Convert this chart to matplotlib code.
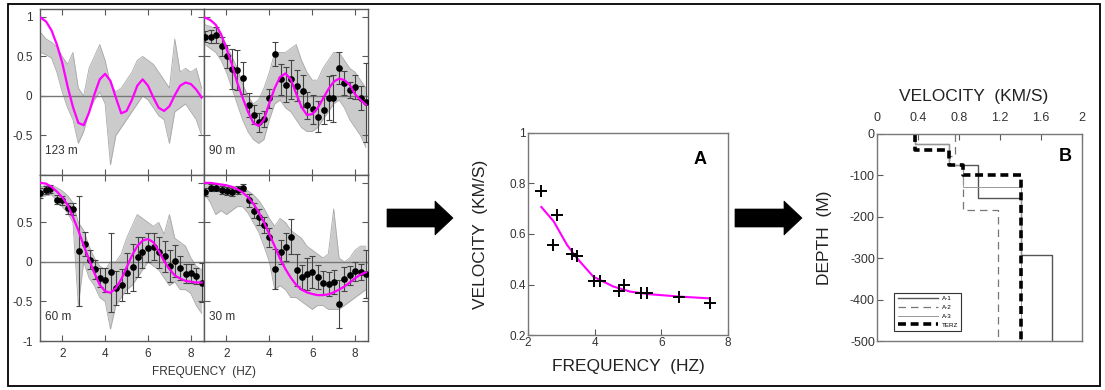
import numpy as np
import matplotlib
matplotlib.use("Agg")
import matplotlib.pyplot as plt
from matplotlib.patches import Rectangle, Polygon

plt.rcParams['font.family'] = ['Liberation Sans', 'DejaVu Sans']

W, H = 1105, 390
MAG = '#ff00ff'
FRAME = '#5a5a5a'

# ---- SPAC coefficient panels (frequency grid of the theoretical / observed curves)
freq = [1.0, 1.25, 1.5, 1.75, 2.0, 2.25, 2.5, 2.75, 3.0, 3.25, 3.5, 3.75, 4.0, 4.25, 4.5,
        4.75, 5.0, 5.25, 5.5, 5.75, 6.0, 6.25, 6.5, 6.75, 7.0, 7.25, 7.5, 7.75, 8.0, 8.25, 8.5]

theory_123 = [0.99, 0.94, 0.83, 0.65, 0.42, 0.12, -0.14, -0.34, -0.37, -0.21, 0.02, 0.21, 0.28, 0.19, -0.02,
              -0.22, -0.19, -0.05, 0.13, 0.21, 0.13, -0.02, -0.15, -0.19, -0.13, 0.01, 0.13, 0.17, 0.15, 0.08, -0.02]
theory_90 = [0.99, 0.96, 0.90, 0.78, 0.60, 0.40, 0.17, -0.02, -0.20, -0.34, -0.38, -0.30, -0.09, 0.10, 0.24,
             0.285, 0.21, 0.03, -0.14, -0.24, -0.23, -0.155, -0.035, 0.085, 0.18, 0.22, 0.20, 0.14, 0.02, -0.05, -0.11]
theory_60 = [1.0, 0.99, 0.95, 0.89, 0.82, 0.72, 0.57, 0.40, 0.21, 0.03, -0.14, -0.29, -0.37, -0.39, -0.33,
             -0.22, -0.07, 0.08, 0.20, 0.27, 0.29, 0.25, 0.14, 0.01, -0.09, -0.17, -0.21, -0.24, -0.25, -0.26, -0.26]
theory_30 = [1.0, 1.0, 0.99, 0.98, 0.97, 0.95, 0.92, 0.88, 0.82, 0.74, 0.63, 0.50, 0.35, 0.20, 0.04,
             -0.09, -0.20, -0.29, -0.35, -0.385, -0.405, -0.42, -0.42, -0.41, -0.385, -0.35, -0.31, -0.26, -0.205, -0.16, -0.13]

# spread of the individual (grey) observed curves
lo_123 = [0.55, 0.52, 0.48, 0.30, 0.05, -0.15, -0.30, -0.60, -0.45, -0.20, -0.05, 0.05, -0.10, -0.87, -0.50,
          -0.40, -0.30, -0.20, -0.10, 0.00, -0.05, -0.15, -0.25, -0.30, -0.60, -0.20, -0.15, -0.10, -0.20, -0.30, -0.50]
hi_123 = [0.80, 0.72, 0.68, 0.62, 0.50, 0.40, 0.55, 0.10, 0.00, 0.35, 0.50, 0.65, 0.45, 0.15, 0.05,
          0.10, 0.20, 0.30, 0.45, 0.50, 0.45, 0.40, 0.30, 0.20, 0.10, 0.72, 0.30, 0.35, 0.30, 0.35, 0.10]
lo_90 = [0.65, 0.60, 0.55, 0.45, 0.30, 0.10, -0.10, -0.30, -0.45, -0.55, -0.60, -0.55, -0.30, -0.10, -0.05,
         -0.15, -0.20, -0.30, -0.40, -0.45, -0.45, -0.40, -0.30, -0.20, -0.10, -0.05, -0.15, -0.30, -0.40, -0.50, -0.65]
hi_90 = [0.90, 0.88, 0.85, 0.75, 0.65, 0.50, 0.35, 0.15, 0.00, -0.10, -0.05, 0.10, 0.30, 0.55, 0.55,
         0.55, 0.60, 0.65, 0.45, 0.30, 0.20, 0.20, 0.35, 0.45, 0.55, 0.55, 0.45, 0.35, 0.30, 0.20, 0.10]
lo_60 = [0.82, 0.84, 0.85, 0.78, 0.70, 0.62, 0.50, -0.55, 0.00, -0.20, -0.30, -0.45, -0.50, -0.85, -0.55,
         -0.45, -0.35, -0.30, -0.20, -0.10, 0.00, -0.05, -0.10, -0.20, -0.30, -0.25, -0.35, -0.35, -0.40, -0.55, -0.65]
hi_60 = [0.95, 0.97, 0.97, 0.94, 0.90, 0.84, 0.75, 0.50, 0.40, 0.20, 0.05, -0.05, -0.10, 0.00, 0.00,
         0.10, 0.30, 0.45, 0.60, 0.55, 0.50, 0.45, 0.50, 0.35, 0.60, 0.30, 0.25, 0.20, 0.05, -0.05, -0.10]
lo_30 = [0.85, 0.75, 0.60, 0.65, 0.60, 0.65, 0.70, 0.70, 0.62, 0.50, 0.38, 0.20, 0.00, -0.35, -0.30,
         -0.35, -0.45, -0.45, -0.50, -0.55, -0.60, -0.55, -0.55, -0.60, -0.60, -0.60, -0.55, -0.50, -0.45, -0.40, -0.35]
hi_30 = [0.98, 0.98, 0.98, 0.98, 0.97, 0.96, 0.95, 0.93, 0.90, 0.85, 0.78, 0.68, 0.55, 0.45, 0.55,
         0.50, 0.40, 0.35, 0.30, 0.20, 0.15, 0.10, 0.05, 0.10, 0.67, 0.05, 0.00, 0.05, 0.15, 0.20, 0.20]

# averaged observations with error bars
f90 = [1.02, 1.26, 1.53, 1.80, 2.03, 2.26, 2.50, 2.76, 3.04, 3.27, 3.50, 3.74, 4.00, 4.28, 4.52, 4.77,
       5.02, 5.29, 5.55, 5.77, 6.03, 6.29, 6.53, 6.76, 6.99, 7.27, 7.50, 7.77, 8.00, 8.27, 8.50]
v90 = [0.75, 0.75, 0.77, 0.63, 0.50, 0.34, 0.33, 0.23, -0.11, -0.24, -0.33, -0.29, -0.03, 0.53, 0.21, 0.14,
       0.21, 0.13, 0.06, -0.12, -0.17, -0.26, -0.18, -0.03, -0.03, 0.35, 0.16, 0.08, 0.11, -0.03, -0.08]
e90 = [0.07, 0.08, 0.10, 0.12, 0.15, 0.25, 0.25, 0.20, 0.15, 0.12, 0.12, 0.10, 0.12, 0.15, 0.20, 0.22,
       0.25, 0.20, 0.20, 0.17, 0.18, 0.20, 0.18, 0.28, 0.30, 0.20, 0.15, 0.10, 0.15, 0.15, 0.50]
f60 = [0.97, 1.22, 1.44, 1.75, 2.00, 2.26, 2.50, 2.76, 3.04, 3.28, 3.53, 3.78, 4.00, 4.27, 4.52, 4.79,
       5.04, 5.30, 5.54, 5.74, 6.02, 6.27, 6.52, 6.77, 7.02, 7.26, 7.51, 7.76, 8.01, 8.26, 8.51]
v60 = [0.87, 0.91, 0.92, 0.79, 0.78, 0.68, 0.67, 0.14, 0.23, 0.03, -0.09, -0.20, -0.23, -0.13, -0.33, -0.29,
       -0.14, -0.07, 0.06, 0.12, 0.18, 0.19, 0.12, 0.07, -0.05, 0.01, -0.08, -0.15, -0.14, -0.18, -0.26]
e60 = [0.06, 0.05, 0.05, 0.06, 0.06, 0.07, 0.08, 0.70, 0.15, 0.12, 0.12, 0.12, 0.15, 0.50, 0.22, 0.20,
       0.25, 0.30, 0.25, 0.20, 0.18, 0.17, 0.20, 0.20, 0.20, 0.20, 0.15, 0.12, 0.12, 0.10, 0.25]
f30 = [1.02, 1.29, 1.53, 1.80, 2.03, 2.26, 2.53, 2.76, 3.04, 3.27, 3.50, 3.77, 4.00, 4.28, 4.53, 4.78,
       5.02, 5.29, 5.52, 5.75, 6.01, 6.27, 6.50, 6.77, 7.00, 7.26, 7.50, 7.77, 8.00, 8.27, 8.52]
v30 = [0.88, 0.94, 0.94, 0.91, 0.90, 0.88, 0.91, 0.94, 0.78, 0.65, 0.57, 0.47, 0.31, -0.09, 0.13, 0.19,
       0.32, -0.10, -0.19, -0.15, -0.13, -0.19, -0.26, -0.28, -0.25, -0.53, -0.22, -0.17, -0.12, -0.13, -0.15]
e30 = [0.05, 0.04, 0.04, 0.05, 0.05, 0.05, 0.05, 0.04, 0.08, 0.10, 0.10, 0.10, 0.12, 0.25, 0.15, 0.18,
       0.22, 0.20, 0.15, 0.20, 0.20, 0.15, 0.15, 0.15, 0.15, 0.30, 0.15, 0.12, 0.12, 0.10, 0.30]

# ---- panel A: dispersion curve
disp_f = [2.4, 2.75, 2.87, 3.32, 3.47, 3.99, 4.16, 4.74, 4.89, 5.39, 5.56, 6.54, 7.47]
disp_v = [0.769, 0.555, 0.674, 0.519, 0.511, 0.412, 0.412, 0.376, 0.397, 0.368, 0.368, 0.352, 0.326]
fit_f = [2.4, 2.77, 3.17, 3.47, 3.96, 4.56, 5.06, 5.6, 6.56, 7.45]
fit_v = [0.707, 0.65, 0.557, 0.504, 0.431, 0.392, 0.372, 0.362, 0.352, 0.345]

# ---- panel B: velocity profiles (layer velocities, layer boundaries in m)
a1_v = [0.37, 0.70, 0.99, 1.40, 1.71]
a1_z = [0, -24, -75, -155, -293, -500]
a2_v = [0.76, 0.70, 0.84, 1.18]
a2_z = [0, -52, -75, -184, -500]
a3_v = [0.37, 0.70, 0.84, 1.40]
a3_z = [0, -24, -75, -127, -500]
terz_v = [0.37, 0.70, 0.84, 1.40]
terz_z = [0, -39, -75, -100, -500]


def fx(px):
    return px / W


def fy(py):
    return 1 - py / H


def steps(v, z):
    return np.repeat(v, 2), np.repeat(z, 2)[1:-1]


fig = plt.figure(figsize=(W / 100, H / 100), dpi=100)

# ---------------- left 2x2 grid
gx0, gx1, gy0, gy1 = 39.5, 368, 9, 341
pw, ph = (gx1 - gx0) / 2, (gy1 - gy0) / 2
panels = [("123 m", theory_123, lo_123, hi_123, None),
          ("90 m", theory_90, lo_90, hi_90, (f90, v90, e90)),
          ("60 m", theory_60, lo_60, hi_60, (f60, v60, e60)),
          ("30 m", theory_30, lo_30, hi_30, (f30, v30, e30))]

for i, (name, th, lo, hi, dots) in enumerate(panels):
    r, c = divmod(i, 2)
    ax = fig.add_axes([fx(gx0 + c * pw), fy(gy0 + (r + 1) * ph), pw / W, ph / H])
    ax.fill_between(freq, lo, hi, color='#cbcbcb', lw=0, zorder=1)
    ax.plot(freq, lo, color='#a8a8a8', lw=0.6, zorder=1)
    ax.plot(freq, hi, color='#a8a8a8', lw=0.6, zorder=1)
    ax.axhline(0, color='#777777', lw=1, zorder=2)
    if dots is not None:
        ax.errorbar(dots[0], dots[1], yerr=dots[2], fmt='o', color='black', ms=3.8,
                    ecolor='#444444', elinewidth=0.8, capsize=2.5, capthick=0.8, zorder=3)
    ax.plot(freq, th, color=MAG, lw=1.6, zorder=4)
    ax.set_xlim(0.94, 8.6)
    ax.set_ylim(-1, 1.1)
    ax.set_xticks([2, 4, 6, 8])
    ax.set_yticks([-1, -0.5, 0, 0.5, 1])
    ax.tick_params(direction='in', top=True, right=True, length=4, width=0.8,
                   color=FRAME, labelsize=8.5, labelcolor='#333333', pad=5)
    if r == 0:
        ax.set_xticklabels([])
    if c == 1:
        ax.set_yticklabels([])
    elif r == 0:
        ax.set_yticklabels(['', '-0.5', '0', '0.5', '1'])
    else:
        ax.set_yticklabels(['-1', '-0.5', '0', '0.5', ''])
    for s in ax.spines.values():
        s.set_color(FRAME)
        s.set_linewidth(1)
    ax.text(0.035, 0.145, name, transform=ax.transAxes, va='center', fontsize=8.5, color='#333333')

fig.text(fx((gx0 + gx1) / 2), fy(372), 'FREQUENCY  (HZ)', ha='center', va='center',
         fontsize=8.5, color='#333333')

# ---------------- panel A
axA = fig.add_axes([fx(528), fy(335), 200 / W, 202 / H])
axA.plot(fit_f, fit_v, color=MAG, lw=1.5, zorder=2)
axA.plot(disp_f, disp_v, '+', color='black', ms=8, mew=1.4, zorder=3)
axA.set_xlim(2, 8)
axA.set_ylim(0.2, 1)
axA.set_xticks([2, 4, 6, 8])
axA.set_yticks([0.2, 0.4, 0.6, 0.8, 1.0])
axA.set_yticklabels(['0.2', '0.4', '0.6', '0.8', '1'])
axA.tick_params(direction='in', length=4, width=0.8, color=FRAME, labelsize=8.5,
                labelcolor='#333333', pad=1.5)
for s in axA.spines.values():
    s.set_color('#777777')
    s.set_linewidth(1)
axA.text(0.86, 0.87, 'A', transform=axA.transAxes, ha='center', va='center',
         fontsize=13, fontweight='bold')
axA.text(-0.24, 0.5, 'VELOCITY  (KM/S)', transform=axA.transAxes, rotation=90,
         ha='center', va='center', fontsize=12.5, color='#222222')
axA.text(0.5, -0.155, 'FREQUENCY  (HZ)', transform=axA.transAxes, ha='center', va='center',
         fontsize=12.5, color='#222222')

# ---------------- panel B
axB = fig.add_axes([fx(877), fy(341), 205 / W, 207 / H])
x, y = steps(a1_v, a1_z)
axB.plot(x, y, color='#555555', lw=1.0, label='A-1')
x, y = steps(a2_v, a2_z)
axB.plot(x, y, color='#777777', lw=0.9, dashes=(6, 4), label='A-2')
x, y = steps(a3_v, a3_z)
axB.plot(x, y, color='#999999', lw=0.7, label='A-3')
x, y = steps(terz_v, terz_z)
axB.plot(x, y, color='black', lw=2.6, dashes=(2.2, 1.3), label='TERZ')
axB.set_xlim(0, 2)
axB.set_ylim(-500, 0)
axB.xaxis.tick_top()
axB.set_xticks([0, 0.4, 0.8, 1.2, 1.6, 2])
axB.set_xticklabels(['0', '0.4', '0.8', '1.2', '1.6', '2'])
axB.set_yticks([-500, -400, -300, -200, -100, 0])
axB.set_yticklabels(['-500', '-400', '-300', '-200', '-100', '0'])
axB.tick_params(direction='in', length=4, width=0.8, color=FRAME, labelsize=9,
                labelcolor='#333333')
axB.tick_params(axis='x', pad=7)
axB.tick_params(axis='y', pad=1.5)
for s in axB.spines.values():
    s.set_color('#777777')
    s.set_linewidth(1)
axB.text(0.917, 0.89, 'B', transform=axB.transAxes, ha='center', va='center',
         fontsize=13, fontweight='bold')
axB.text(0.47, 1.18, 'VELOCITY  (KM/S)', transform=axB.transAxes, ha='center', va='center',
         fontsize=12.5, color='#222222')
axB.text(-0.254, 0.5, 'DEPTH  (M)', transform=axB.transAxes, rotation=90,
         ha='center', va='center', fontsize=12.5, color='#222222')
leg = axB.legend(loc='lower left', bbox_to_anchor=(0.07, 0.035), fontsize=4.5, handlelength=6.5,
                 fancybox=False, edgecolor='#333333', framealpha=1, borderpad=0.5,
                 labelspacing=0.55, handletextpad=0.6)
leg.get_frame().set_linewidth(0.8)

# ---------------- arrows between the stages
def arrow(x_tail, x_tip):
    head = 18
    pts = [(x_tail, 209), (x_tip - head, 209), (x_tip - head, 201), (x_tip, 218),
           (x_tip - head, 235), (x_tip - head, 227), (x_tail, 227)]
    fig.patches.append(Polygon([(fx(a), fy(b)) for a, b in pts], closed=True,
                               transform=fig.transFigure, fc='black', ec='black', lw=0.5))


arrow(387, 453)
arrow(735, 802)

# outer frame
fig.patches.append(Rectangle((fx(8), fy(386)), (1100 - 8) / W, (386 - 4) / H, fill=False,
                             transform=fig.transFigure, ec='black', lw=1.3))

fig.savefig('out.png', dpi=100)
